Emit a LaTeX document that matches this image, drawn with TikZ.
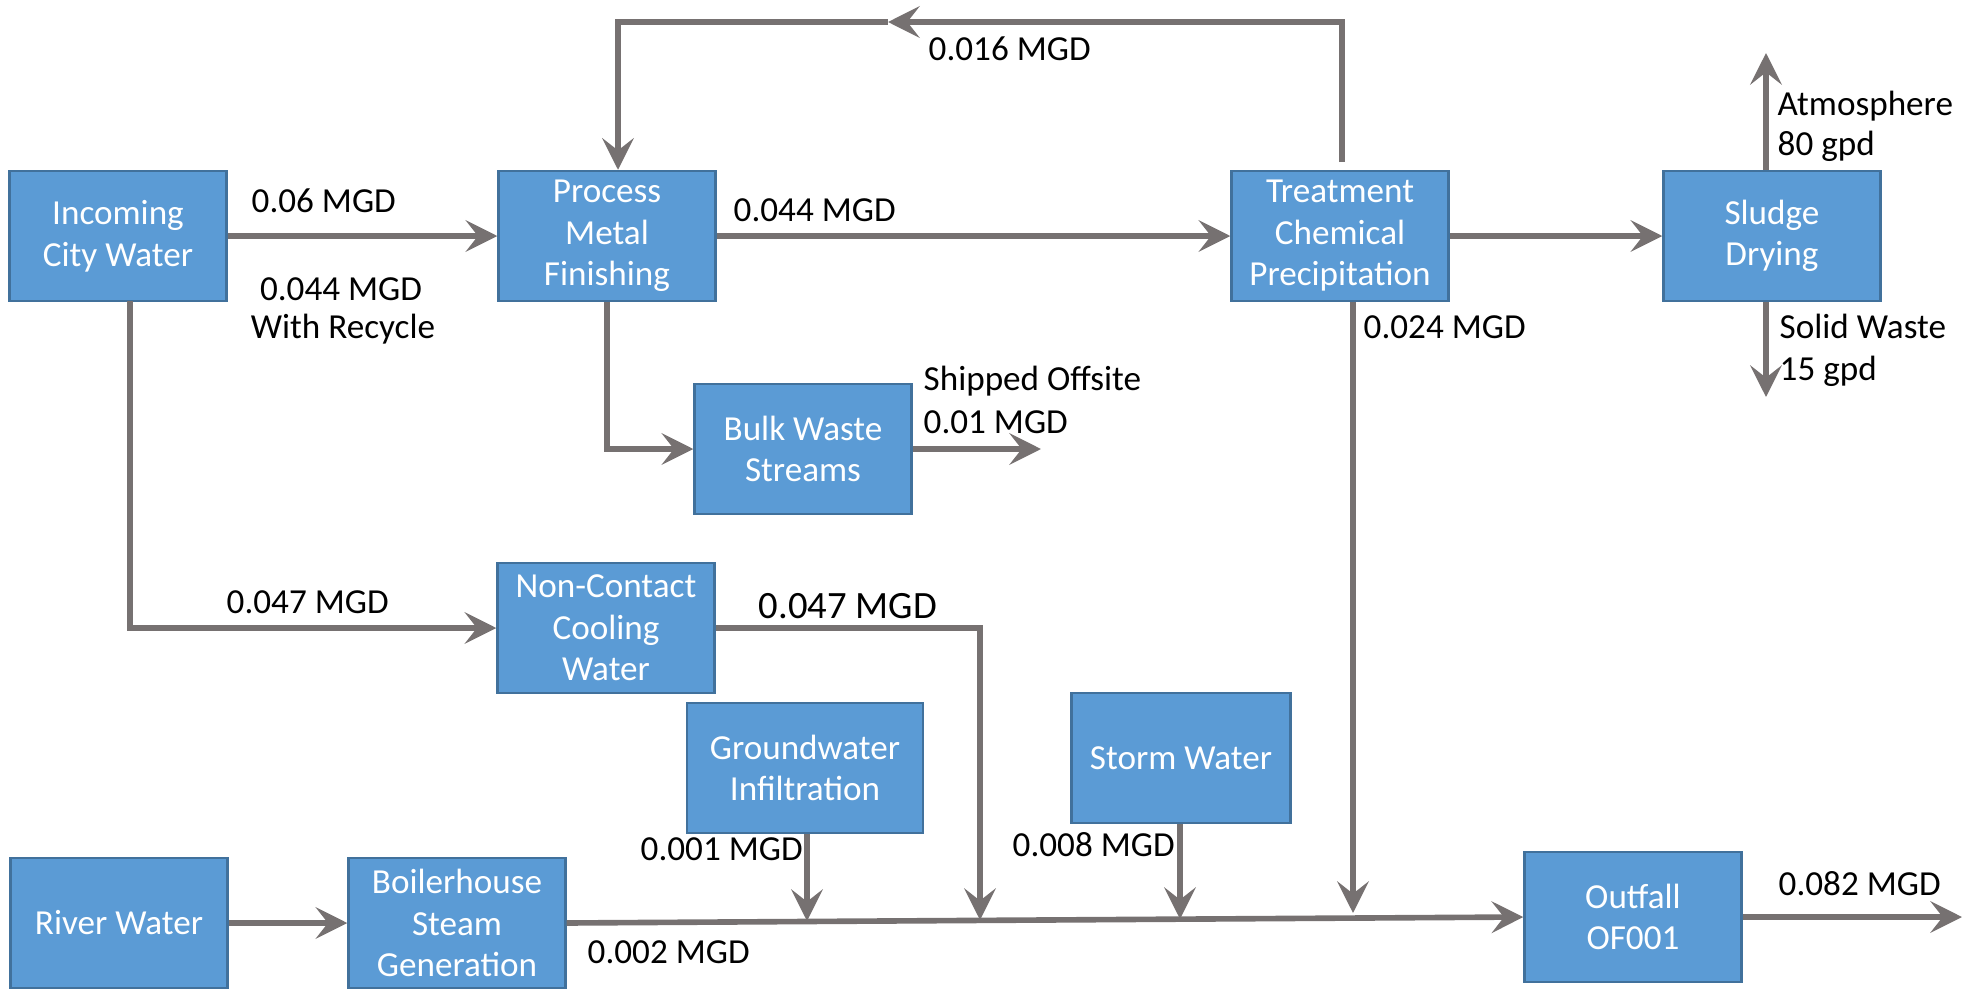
\documentclass[tikz,border=0pt]{standalone}
\usepackage{fontspec}
\setmainfont{Carlito}
\usetikzlibrary{arrows.meta}
\definecolor{boxblue}{HTML}{5B9BD5}
\definecolor{boxedge}{HTML}{41719C}
\definecolor{pipegray}{HTML}{767171}

\begin{document}
\begin{tikzpicture}[x=0.1mm, y=-0.1mm,
    unit/.style={draw=boxedge, line width=0.7pt, fill=boxblue, text=white,
      align=center, minimum width=21.7mm, minimum height=13mm, inner sep=0pt,
      font=\fontsize{10}{11.8}\selectfont},
    pipe/.style={draw=pipegray, line width=1.6pt},
    flow/.style={pipe, -{Stealth[length=9pt, width=9pt, inset=3.5pt]}},
    rate/.style={inner sep=0pt, anchor=base west, font=\fontsize{10}{12}\selectfont}]
  \useasboundingbox (0,0) rectangle (1977,989);

  % Units
  \node[unit] (city) at (118,236) {Incoming\\City Water};
  \node[unit] (proc) at (607,236) {Process\\Metal\\Finishing};
  \node[unit] (treat) at (1340,236) {Treatment\\Chemical\\Precipitation};
  \node[unit] (sludge) at (1772,236) {Sludge\\Drying};
  \node[unit] (bulk) at (803,449) {Bulk Waste\\Streams};
  \node[unit] (cool) at (606,628) {Non-Contact\\Cooling\\Water};
  \node[unit, minimum width=23.6mm] (ground) at (805,768) {Groundwater\\Infiltration};
  \node[unit, minimum width=21.9mm] (storm) at (1181,758) {Storm Water};
  \node[unit] (river) at (119,923) {River Water};
  \node[unit] (boiler) at (457,923) {Boilerhouse\\Steam\\Generation};
  \node[unit] (outfall) at (1633,917) {Outfall\\OF001};

  % Free ends and junctions
  \coordinate (loopR) at (1342,162);
  \coordinate (loopM) at (888,22);
  \coordinate (loopL) at (618,22);
  \coordinate (atm) at (1766,53);
  \coordinate (solid) at (1766,397);
  \coordinate (ship) at (1041,449);
  \coordinate (tapA) at (130,301);
  \coordinate (j1) at (980,920);
  \coordinate (j2) at (807,921);
  \coordinate (j3) at (1180,919);
  \coordinate (j4) at (1353,913);
  \coordinate (out) at (1962,917);

  % Flows
  \draw[flow] (city) -- (proc);
  \draw[flow] (proc) -- (treat);
  \draw[flow] (treat) -- (sludge);
  \draw[flow] (sludge.north -| atm) -- (atm);
  \draw[flow] (sludge.south -| solid) -- (solid);
  \draw[flow] (loopR) |- (loopM);
  \draw[flow] (loopM) -- (loopL) -- (loopL |- proc.north);
  \draw[flow] (proc.south) |- (bulk.west);
  \draw[flow] (bulk.east) -- (ship);
  \draw[flow] (tapA) |- (cool.west);
  \draw[flow] (cool.east) -| (j1);
  \draw[flow] (ground.south -| j2) -- (j2);
  \draw[flow] (storm.south -| j3) -- (j3);
  \draw[flow] (treat.south -| j4) -- (j4);
  \draw[flow] (river) -- (boiler);
  \draw[flow] (boiler.east) -- (outfall.west);
  \draw[flow] (outfall.east) -- (out);

  % Rates
  \node[rate] (r06) at (251,212) {0.06 MGD};
  \node[rate, anchor=base] (r044a) at (341,300) {0.044 MGD};
  \node[rate, anchor=base] (rrec) at (343,338) {With Recycle};
  \node[rate] (r044b) at (733,221) {0.044 MGD};
  \node[rate] (r016) at (928,60) {0.016 MGD};
  \node[rate] (r024) at (1363,338) {0.024 MGD};
  \node[rate] (ratm) at (1777,115) {Atmosphere};
  \node[rate] (r80) at (1777,155) {80 gpd};
  \node[rate] (rsolid) at (1779,338) {Solid Waste};
  \node[rate] (r15) at (1779,380) {15 gpd};
  \node[rate] (rship) at (923,390) {Shipped Offsite};
  \node[rate] (r01) at (923,433) {0.01 MGD};
  \node[rate] (r047a) at (226,613) {0.047 MGD};
  \node[rate, font=\fontsize{11}{13}\selectfont] (r047b) at (758,618) {0.047 MGD};
  \node[rate] (r001) at (640,860) {0.001 MGD};
  \node[rate] (r008) at (1012,856) {0.008 MGD};
  \node[rate] (r002) at (587,963) {0.002 MGD};
  \node[rate] (r082) at (1778,895) {0.082 MGD};
\end{tikzpicture}
\end{document}
